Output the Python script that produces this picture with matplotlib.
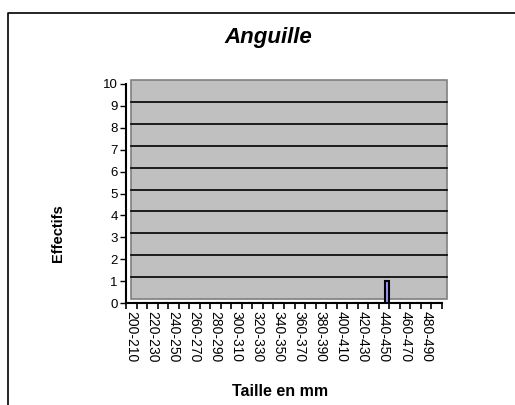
import matplotlib
matplotlib.use("Agg")
import matplotlib.pyplot as plt
from matplotlib.transforms import offset_copy
from matplotlib.patches import Rectangle
from matplotlib.lines import Line2D

plt.rcParams['font.family'] = ['Liberation Sans', 'DejaVu Sans']

# size classes (mm) and counts
classes = [f"{lo}-{lo + 10}" for lo in range(200, 500, 10)]
counts = [0] * len(classes)
counts[classes.index("440-450")] = 1

title = "Anguille"
xlabel = "Taille en mm"
ylabel = "Effectifs"

W, H = 515, 405
fig = plt.figure(figsize=(W / 100, H / 100), dpi=100)

# chart area border (left + top edges visible)
fig.add_artist(Line2D([8 / W, 8 / W, 1.0], [0.0, 1 - 13 / H, 1 - 13 / H],
                      transform=fig.transFigure, color='black', lw=1.2))

# front axes box
x0, x1, y0, y1 = 126, 442, 303, 84
ax = fig.add_axes([x0 / W, 1 - y0 / H, (x1 - x0) / W, (y0 - y1) / H])
ax.set_facecolor('none')
ax.set_xlim(-0.5, len(classes) - 0.5)
ax.set_ylim(0, 10)

# back wall shifted for the 3d depth
back = offset_copy(ax.transAxes, fig=fig, x=5, y=4, units='dots')
ax.add_patch(Rectangle((0, 0), 1, 1, transform=back, facecolor='#C0C0C0',
                       edgecolor='#808080', lw=1.2, clip_on=False, zorder=0))
grid_tr = offset_copy(ax.get_yaxis_transform(), fig=fig, x=5, y=4, units='dots')
for v in range(1, 10):
    ax.plot([0, 1], [v, v], transform=grid_tr, color='black', lw=1.2,
            clip_on=False, zorder=1)

bar_tr = offset_copy(ax.transData, fig=fig, x=3, y=0, units='dots')
bars = ax.bar(range(len(classes)), counts, width=0.45, color='#9999FF',
              edgecolor='black', lw=1.5, zorder=3)
for b in bars:
    b.set_transform(bar_tr)

for s in ['top', 'right']:
    ax.spines[s].set_visible(False)
for s in ['left', 'bottom']:
    ax.spines[s].set_linewidth(1.5)
    ax.spines[s].set_zorder(4)

ax.set_yticks(range(0, 11))
ax.tick_params(axis='y', length=4, width=1, pad=2, labelsize=9.5)
ax.set_xticks(range(0, len(classes), 2))
ax.set_xticklabels(classes[::2], rotation=-90, fontsize=10, va='top', ha='center')
ax.set_xticks([i - 0.5 for i in range(len(classes) + 1)], minor=True)
ax.tick_params(axis='x', which='major', length=0, pad=6)
ax.tick_params(axis='x', which='minor', length=4, width=1.2, direction='out')

fig.text(268 / W, 1 - 38 / H, title, fontsize=16, fontweight='bold',
         fontstyle='italic', ha='center', va='center')
fig.text(58 / W, 1 - 233 / H, ylabel, fontsize=10.5, fontweight='bold',
         rotation=90, ha='center', va='center')
fig.text(280 / W, 1 - 391 / H, xlabel, fontsize=11.5, fontweight='bold',
         ha='center', va='center')

fig.savefig("out.png", dpi=100)
